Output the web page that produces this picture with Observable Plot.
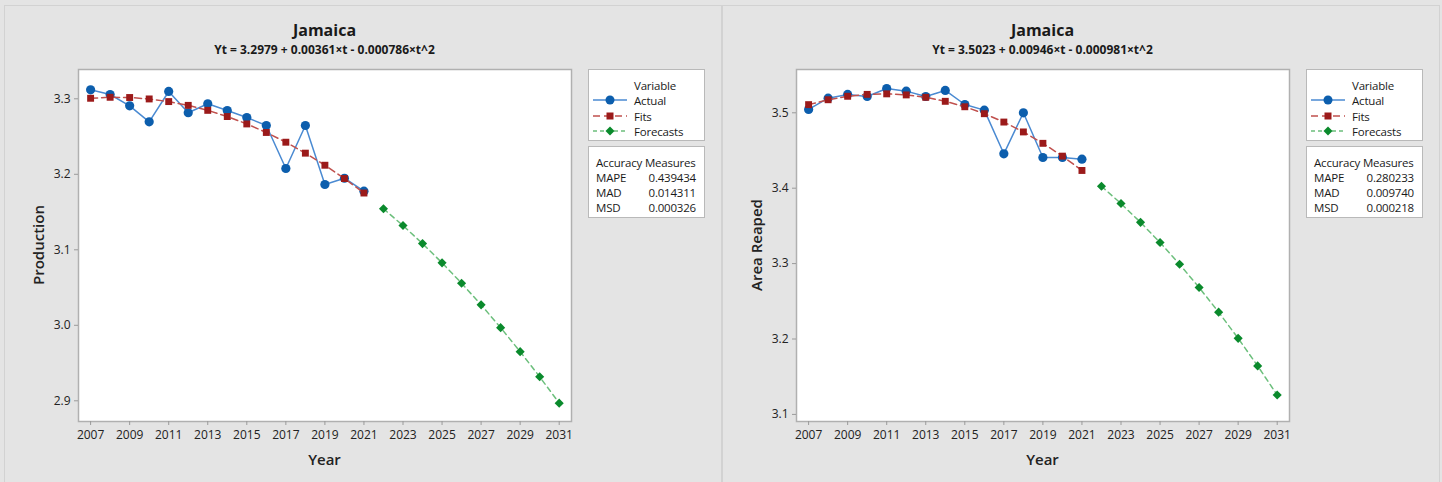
<!DOCTYPE html>
<html><head><meta charset="utf-8">
<script src="https://cdn.jsdelivr.net/npm/d3@7"></script>
<script src="https://cdn.jsdelivr.net/npm/@observablehq/plot@0.6"></script>
<style>
body{margin:0;background:#e4e4e4;font-family:"Open Sans",sans-serif;}
#wrap{position:relative;width:1442px;height:482px;overflow:hidden;background:#e4e4e4;}
.vline{position:absolute;top:5px;height:477px;background:#d2d2d2;}
.hline{position:absolute;top:5px;left:4px;width:1436px;height:1px;background:#d2d2d2;}
.t{position:absolute;white-space:nowrap;color:#1a1a1a;}
.c{transform:translate(-50%,-50%);}
.r{transform:translate(-50%,-50%) rotate(-90deg);}
.box{position:absolute;background:#fff;border:1px solid #b9b9b9;box-sizing:border-box;font-size:11.5px;letter-spacing:-0.2px;color:#1a1a1a;}
.box .t{transform:translateY(-50%);}
.plotsvg{position:absolute;top:0;}
</style></head><body><div id="wrap"></div>
<script>
const years = [2007,2008,2009,2010,2011,2012,2013,2014,2015,2016,2017,2018,2019,2020,2021];
const forecastYears = [2022,2023,2024,2025,2026,2027,2028,2029,2030,2031];
const yearTicks = [2007,2009,2011,2013,2015,2017,2019,2021,2023,2025,2027,2029,2031];

const prodActual = [3.3119,3.3057,3.2907,3.2695,3.3097,3.2815,3.2934,3.2845,3.2752,3.2646,3.2077,3.2646,3.1865,3.1948,3.1776];
const prodFits = [3.3007,3.3020,3.3017,3.2998,3.2963,3.2913,3.2847,3.2765,3.2667,3.2554,3.2425,3.2280,3.2120,3.1944,3.1752];
const prodForecast = [3.1544,3.1321,3.1082,3.0827,3.0557,3.0271,2.9969,2.9651,2.9318,2.8969];
const prodTicks = [2.9,3.0,3.1,3.2,3.3];

const areaActual = [3.5044,3.5194,3.5243,3.5216,3.5322,3.5287,3.5216,3.5296,3.5110,3.5035,3.4456,3.5000,3.4407,3.4407,3.4385];
const areaFits = [3.5108,3.5173,3.5219,3.5244,3.5251,3.5237,3.5205,3.5152,3.5080,3.4988,3.4877,3.4746,3.4595,3.4425,3.4235];
const areaForecast = [3.4025,3.3796,3.3547,3.3279,3.2991,3.2683,3.2356,3.2009,3.1643,3.1257];
const areaTicks = [3.1,3.2,3.3,3.4,3.5];

const panels = [
  {title:"Jamaica", sub:"Yt = 3.2979 + 0.00361×t - 0.000786×t^2", ylabel:"Production",
   actual:prodActual, fits:prodFits, forecast:prodForecast, ticks:prodTicks, domain:[2.8726,3.3388],
   acc:[["MAPE","0.439434"],["MAD","0.014311"],["MSD","0.000326"]]},
  {title:"Jamaica", sub:"Yt = 3.5023 + 0.00946×t - 0.000981×t^2", ylabel:"Area Reaped",
   actual:areaActual, fits:areaFits, forecast:areaForecast, ticks:areaTicks, domain:[3.0906,3.5574],
   acc:[["MAPE","0.280233"],["MAD","0.009740"],["MSD","0.000218"]]}
];

const C = {
  actualLine:"#4a8ad2", actualDot:"#0c5ead",
  fitsLine:"#c0504d", fitsDot:"#9b1a1a",
  fcLine:"#6cbf7c", fcDot:"#0a8a2c"
};

const wrap = document.getElementById("wrap");
function el(tag, cls, style, text){
  const e = document.createElement(tag);
  if(cls) e.className = cls;
  Object.assign(e.style, style||{});
  if(text!=null) e.textContent = text;
  return e;
}
wrap.appendChild(el("div","hline"));
wrap.appendChild(el("div","vline",{left:"4px",width:"1px"}));
wrap.appendChild(el("div","vline",{left:"721px",width:"2px"}));
wrap.appendChild(el("div","vline",{left:"1439px",width:"1px"}));

panels.forEach((p, k) => {
  const ox = k*718;
  const A = years.map((y,i)=>({year:y, v:p.actual[i]}));
  const F = years.map((y,i)=>({year:y, v:p.fits[i]}));
  const FC = forecastYears.map((y,i)=>({year:y, v:p.forecast[i]}));
  const svg = Plot.plot({
    width:718, height:482,
    marginLeft:78, marginRight:147, marginTop:69, marginBottom:61,
    style:{background:"transparent", fontFamily:"'Open Sans',sans-serif", fontSize:"12px", color:"#222", overflow:"visible"},
    x:{domain:[2006.38,2031.63]},
    y:{domain:p.domain},
    marks:[
      Plot.frame({fill:"white", stroke:"#b0b0b0", strokeWidth:1.5}),
      Plot.axisX({ticks:yearTicks, tickFormat:d=>String(d), tickSize:4, tickPadding:5, stroke:"#9a9a9a", label:null}),
      Plot.axisY({ticks:p.ticks, tickFormat:d3.format(".1f"), tickSize:4, tickPadding:4, stroke:"#9a9a9a", label:null}),
      Plot.line(A, {x:"year", y:"v", stroke:C.actualLine, strokeWidth:1.5}),
      Plot.dot(A, {x:"year", y:"v", r:4.6, fill:C.actualDot, symbol:"circle"}),
      Plot.line(F, {x:"year", y:"v", stroke:C.fitsLine, strokeWidth:1.5, strokeDasharray:"7,4"}),
      Plot.dot(F, {x:"year", y:"v", r:3.9, fill:C.fitsDot, symbol:"square"}),
      Plot.line(FC, {x:"year", y:"v", stroke:C.fcLine, strokeWidth:1.5, strokeDasharray:"5,4"}),
      Plot.dot(FC, {x:"year", y:"v", r:4.1, fill:C.fcDot, symbol:"diamond2"})
    ]
  });
  svg.classList.add("plotsvg");
  svg.style.left = ox + "px";
  wrap.appendChild(svg);

  // titles
  wrap.appendChild(el("div","t c",{left:(ox+324.5)+"px", top:"30px", fontSize:"16px", fontWeight:"700"}, p.title));
  wrap.appendChild(el("div","t c",{left:(ox+324.5)+"px", top:"49px", fontSize:"12px", fontWeight:"700"}, p.sub));
  // axis labels
  wrap.appendChild(el("div","t c",{left:(ox+324.5)+"px", top:"459px", fontSize:"15px", fontWeight:"600", color:"#222"}, "Year"));
  wrap.appendChild(el("div","t r",{left:(ox+38)+"px", top:"245px", fontSize:"15px", fontWeight:"600", color:"#222"}, p.ylabel));

  // legend box
  const lg = el("div","box",{left:(ox+588)+"px", top:"69px", width:"117px", height:"72px"});
  lg.appendChild(el("div","t",{left:"45px", top:"15px"}, "Variable"));
  const items = [
    ["Actual", C.actualLine, C.actualDot, "circle", null],
    ["Fits", C.fitsLine, C.fitsDot, "square", "7,4"],
    ["Forecasts", C.fcLine, C.fcDot, "diamond", "4,3"]
  ];
  const ns = "http://www.w3.org/2000/svg";
  items.forEach((it, j) => {
    const cy = 30 + j*15.5;
    lg.appendChild(el("div","t",{left:"45px", top:cy+"px"}, it[0]));
    const s = document.createElementNS(ns,"svg");
    s.setAttribute("width","40"); s.setAttribute("height","12");
    Object.assign(s.style,{position:"absolute", left:"2px", top:(cy-6)+"px"});
    const ln = document.createElementNS(ns,"line");
    ln.setAttribute("x1","2"); ln.setAttribute("x2","36"); ln.setAttribute("y1","6"); ln.setAttribute("y2","6");
    ln.setAttribute("stroke", it[1]); ln.setAttribute("stroke-width","1.5");
    if(it[4]) ln.setAttribute("stroke-dasharray", it[4]);
    s.appendChild(ln);
    let m;
    if(it[3]==="circle"){ m=document.createElementNS(ns,"circle"); m.setAttribute("cx","19"); m.setAttribute("cy","6"); m.setAttribute("r","4.5"); }
    else if(it[3]==="square"){ m=document.createElementNS(ns,"rect"); m.setAttribute("x","15.5"); m.setAttribute("y","2.5"); m.setAttribute("width","7"); m.setAttribute("height","7"); }
    else { m=document.createElementNS(ns,"path"); m.setAttribute("d","M19,1.5L23.5,6L19,10.5L14.5,6Z"); }
    m.setAttribute("fill", it[2]);
    s.appendChild(m);
    lg.appendChild(s);
  });
  wrap.appendChild(lg);

  // accuracy box
  const ab = el("div","box",{left:(ox+588)+"px", top:"146px", width:"117px", height:"72px"});
  ab.appendChild(el("div","t",{left:"7px", top:"14.5px"}, "Accuracy Measures"));
  p.acc.forEach((a, j) => {
    const cy = 30 + j*15;
    ab.appendChild(el("div","t",{left:"7px", top:cy+"px"}, a[0]));
    ab.appendChild(el("div","t",{right:"8px", top:cy+"px"}, a[1]));
  });
  wrap.appendChild(ab);
});
</script>
</body></html>
